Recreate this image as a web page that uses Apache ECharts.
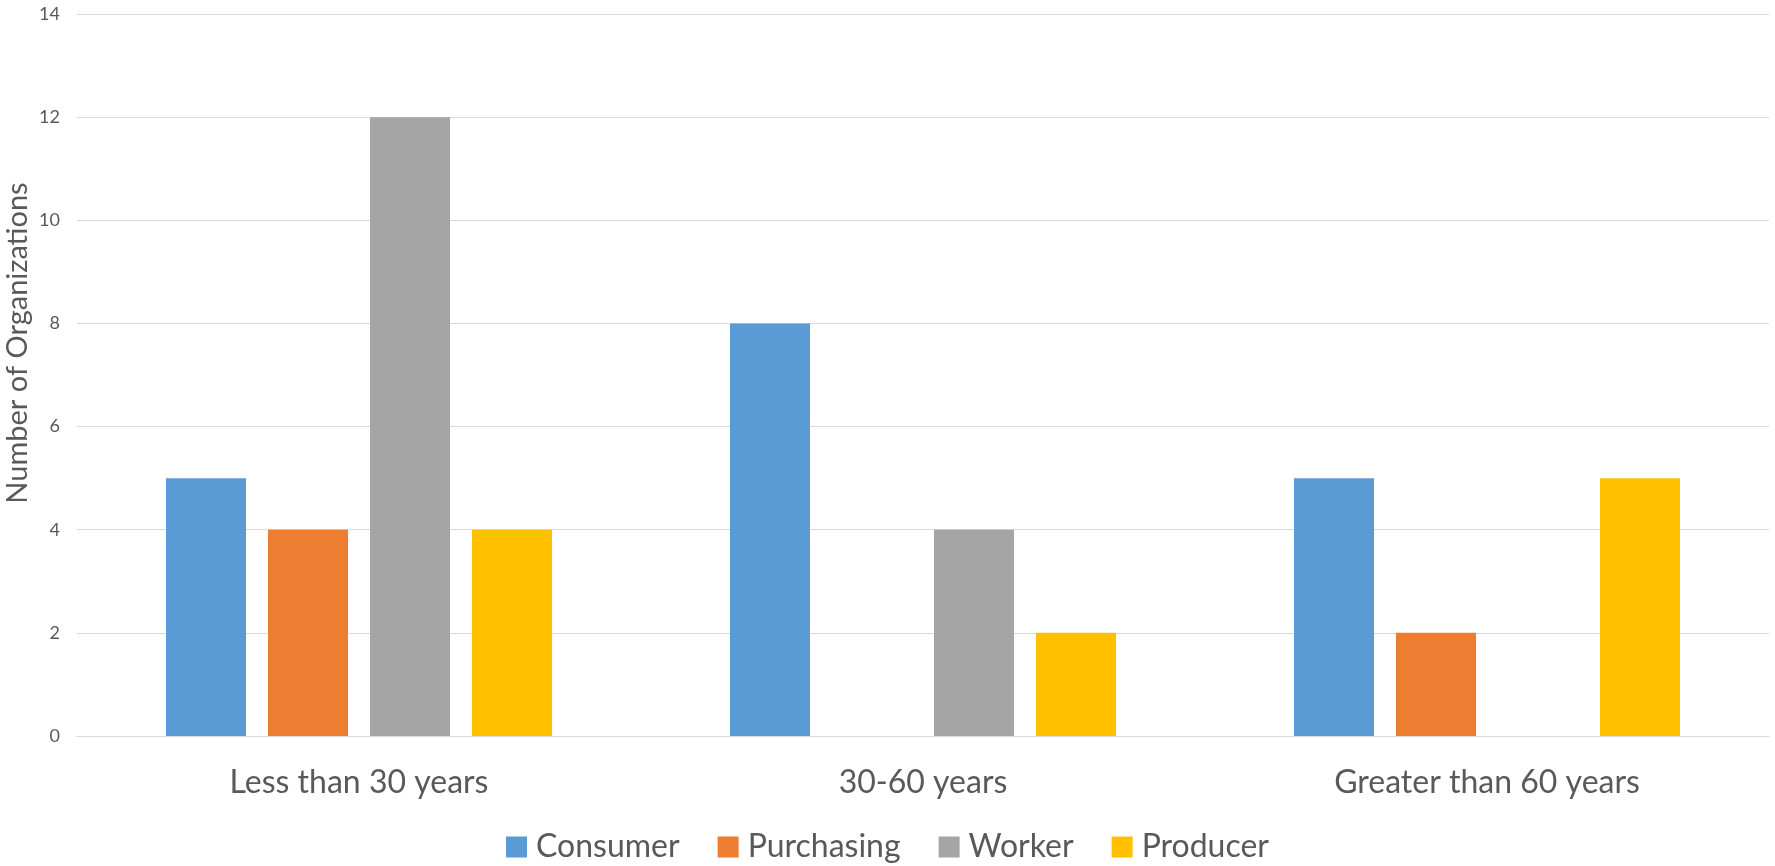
<!DOCTYPE html>
<html>
<head>
<meta charset="utf-8">
<script src="https://cdn.jsdelivr.net/npm/echarts@6/dist/echarts.min.js"></script>
<style>
html,body{margin:0;padding:0;background:#fff;}
#chart{width:1775px;height:866px;}
</style>
</head>
<body>
<div id="chart"></div>
<script>
const categories = ['Less than 30 years', '30-60 years', 'Greater than 60 years'];
const seriesNames = ['Consumer', 'Purchasing', 'Worker', 'Producer'];
const consumer = [5, 8, 5];
const purchasing = [4, 0, 2];
const worker = [12, 4, 0];
const producer = [4, 2, 5];
const yTicks = { min: 0, max: 14, interval: 2 };
const yTitle = 'Number of Organizations';
const colors = ['#5B9BD5', '#ED7D31', '#A5A5A5', '#FFC000'];
const values = [consumer, purchasing, worker, producer];

const chart = echarts.init(document.getElementById('chart'));
const font = 'Lato, "Open Sans", sans-serif';
chart.setOption({
  animation: false,
  color: colors,
  grid: { left: 77, right: 6, top: 14, bottom: 130, containLabel: false, outerBoundsMode: 'none' },
  graphic: [{
    type: 'text',
    x: 18,
    y: 343,
    rotation: Math.PI / 2,
    style: {
      text: yTitle,
      fontFamily: 'Lato, "Open Sans", sans-serif',
      fontSize: 29,
      fill: '#595959',
      align: 'center',
      verticalAlign: 'middle'
    }
  }],
  legend: {
    data: seriesNames,
    left: 'center',
    top: 826,
    icon: 'rect',
    itemWidth: 21,
    itemHeight: 21,
    itemGap: 38,
    textStyle: { fontFamily: font, fontSize: 32, color: '#595959', padding: [0, 0, 0, 4] }
  },
  xAxis: {
    type: 'category',
    data: categories,
    axisTick: { show: false },
    axisLine: { lineStyle: { color: '#D9D9D9', width: 1 } },
    axisLabel: { fontFamily: font, fontSize: 32, color: '#595959', margin: 31 }
  },
  yAxis: {
    type: 'value',
    min: yTicks.min,
    max: yTicks.max,
    interval: yTicks.interval,
    axisLine: { show: false },
    axisTick: { show: false },
    axisLabel: { fontFamily: font, fontSize: 18, color: '#595959', margin: 17 },
    splitLine: { lineStyle: { color: '#D9D9D9', width: 1 } }
  },
  series: seriesNames.map((n, i) => ({
    name: n,
    type: 'bar',
    data: values[i],
    barWidth: 80,
    barGap: '27.5%'
  }))
});
</script>
</body>
</html>
